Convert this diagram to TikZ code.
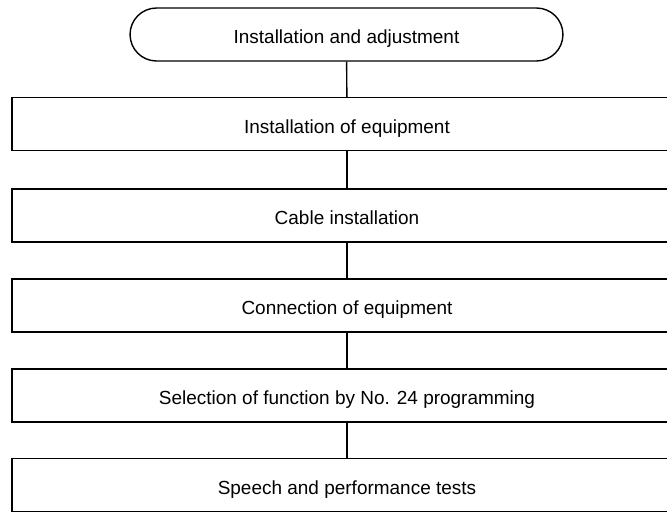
\documentclass[tikz,border=0pt]{standalone}
\usepackage{fontspec}
\setmainfont{Liberation Sans}

\begin{document}
\begin{tikzpicture}[x=0.02cm, y=-0.02cm,
    stepbox/.style={draw, line width=0.8pt, minimum width=13.4cm, minimum height=1.06cm,
        inner sep=0pt, text height=10.5pt, text depth=0pt,
        font=\fontsize{10.8}{13}\selectfont},
    startbox/.style={stepbox, minimum width=8.66cm, rounded corners=0.53cm},
    link/.style={line width=0.8pt}]
    \clip (0,0) rectangle (667,513);

    % START
    \node[startbox] (start) at (346.5,34.5) {Installation and adjustment};

    % STEPS
    \node[stepbox] (equip) at (347,124) {Installation of equipment};
    \node[stepbox] (cable) at (347,215.5) {Cable installation};
    \node[stepbox] (conn) at (347,305.5) {Connection of equipment};
    \node[stepbox] (prog) at (347,395.5) {Selection of function by No. 24 programming};
    \node[stepbox] (tests) at (347,485) {Speech and performance tests};

    % LINKS
    \foreach \a/\b in {start/equip, equip/cable, cable/conn, conn/prog, prog/tests} {
        \draw[link] (\a) -- (\b);
    }
\end{tikzpicture}
\end{document}
